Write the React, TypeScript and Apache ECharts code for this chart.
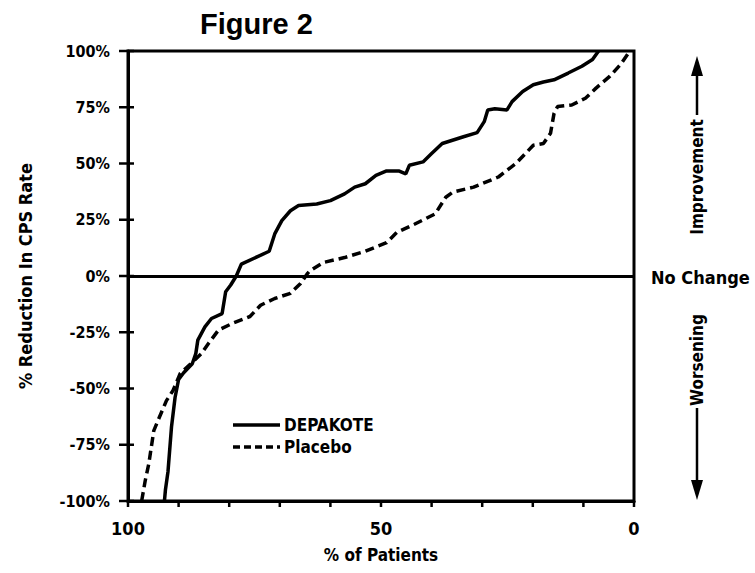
import React, { useEffect, useRef } from "react";
import * as echarts from "echarts";

const FONT = "'DejaVu Sans Condensed', 'Liberation Sans Narrow', sans-serif";

// % of patients (x) and % reduction in CPS rate (y)
const depakoteX = [92.8, 92.6, 92.1, 91.4, 90.7, 90.0, 89.0, 87.3, 86.6, 86.2, 84.8, 83.5, 81.4, 80.7, 79.7, 78.6, 77.6, 72.1, 71.0, 69.6, 67.9, 66.3, 62.7, 60.0, 57.2, 55.2, 53.1, 51.0, 48.9, 46.5, 45.1, 44.4, 41.7, 40.0, 37.9, 33.7, 31.0, 29.6, 28.9, 27.5, 25.1, 24.1, 22.0, 19.9, 17.9, 15.8, 13.0, 10.3, 8.2, 7.0];
const depakoteY = [-100, -95, -87, -67, -54, -46, -43, -39, -34.5, -28.5, -22.6, -18.9, -16.7, -7, -4, 0, 5.3, 11, 18.7, 24.6, 29, 31.3, 32, 33.5, 36.5, 39.5, 41, 44.7, 46.7, 46.7, 45.4, 49.2, 50.7, 54.4, 58.9, 61.9, 63.7, 68.6, 73.8, 74.3, 73.8, 77.5, 82, 85, 86.2, 87.2, 90.2, 93.2, 96.2, 100];

const placeboX = [97.3, 96.6, 95.9, 94.9, 93.8, 92.4, 91.1, 89.7, 87.6, 85.5, 84.1, 82.1, 79.3, 75.9, 73.8, 71.0, 67.9, 65.9, 64.5, 64.1, 61.4, 57.2, 53.1, 48.9, 46.9, 43.4, 39.3, 37.2, 35.8, 31.7, 26.8, 23.4, 19.9, 17.9, 16.5, 15.8, 15.1, 12.3, 9.6, 7.5, 4.8, 2.7, 0.8];
const placeboY = [-100, -91, -83.6, -68.7, -62.8, -55.4, -50.9, -43.4, -39, -34.5, -30, -24, -21, -18, -13, -10, -7.7, -3.3, 1.2, 2.2, 6, 8.2, 11, 14.8, 19.3, 23, 27.6, 35, 37.3, 39.5, 44, 49.9, 58.1, 58.9, 63.4, 72.3, 75.3, 76, 79, 83.5, 88.7, 93.9, 100];

const seriesNames = ["DEPAKOTE", "Placebo"];
const xLabelTicks = [100, 50, 0];
const xTickValues = [0, 10, 20, 30, 40, 50, 60, 70, 80, 90, 100];
const yTickValues = [-100, -75, -50, -25, 0, 25, 50, 75, 100];

const zip = (xs: number[], ys: number[]) => xs.map((x, i) => [x, ys[i]]);

export default function App() {
  const ref = useRef<HTMLDivElement>(null);

  useEffect(() => {
    if (!ref.current) return;
    const chart = echarts.init(ref.current, null, { renderer: "svg" });
    const black = "#000";
    const txt = (size: number) => ({ color: black, fontFamily: FONT, fontWeight: "bold" as const, fontSize: size });

    chart.setOption({
      animation: false,
      backgroundColor: "#fff",
      title: {
        text: "Figure 2",
        left: 195,
        top: 4,
        textStyle: { color: black, fontFamily: "'Liberation Sans', Arial, sans-serif", fontWeight: "bold", fontSize: 29 },
      },
      grid: {
        left: 128,
        right: 121,
        top: 51,
        bottom: 72,
        show: true,
        borderColor: black,
        borderWidth: 3,
        backgroundColor: "transparent",
      },
      xAxis: {
        type: "value",
        min: 0,
        max: 100,
        interval: 10,
        inverse: true,
        name: "% of Patients",
        nameLocation: "middle",
        nameGap: 45,
        nameTextStyle: txt(17),
        axisLine: { show: true, onZero: false, lineStyle: { color: black, width: 3 } },
        axisTick: { show: false },
        axisLabel: {
          ...txt(18),
          margin: 18,
          formatter: (v: number) => (xLabelTicks.includes(v) ? String(v) : ""),
        },
        splitLine: { show: false },
      },
      yAxis: {
        type: "value",
        min: -100,
        max: 100,
        interval: 25,
        name: "% Reduction In CPS Rate",
        nameLocation: "middle",
        nameRotate: 90,
        nameGap: 94,
        nameTextStyle: txt(18),
        axisLine: { show: true, onZero: false, lineStyle: { color: black, width: 3 } },
        axisTick: { show: false },
        axisLabel: { ...txt(16), margin: 18, formatter: (v: number) => `${v}%` },
        splitLine: { show: false },
      },
      series: [
        {
          name: seriesNames[0],
          type: "line",
          data: zip(depakoteX, depakoteY),
          symbol: "none",
          lineStyle: { color: black, width: 3.5, type: "solid" },
          markLine: {
            silent: true,
            symbol: ["none", "none"],
            label: { show: false },
            lineStyle: { color: black, width: 3, type: "solid" },
            data: [{ yAxis: 0 }],
          },
        },
        {
          name: seriesNames[1],
          type: "line",
          data: zip(placeboX, placeboY),
          symbol: "none",
          lineStyle: { color: black, width: 3.5, type: [9, 5] },
        },
        {
          type: "custom",
          silent: true,
          clip: false,
          data: xTickValues.map((v) => [v, -100]),
          renderItem: (_p: any, api: any) => {
            const pt = api.coord([api.value(0), api.value(1)]);
            return {
              type: "line",
              shape: { x1: pt[0], y1: pt[1], x2: pt[0], y2: pt[1] + 6 },
              style: { stroke: black, lineWidth: 2.5 },
            };
          },
        },
        {
          type: "custom",
          silent: true,
          clip: false,
          data: yTickValues.map((v) => [100, v]),
          renderItem: (_p: any, api: any) => {
            const pt = api.coord([api.value(0), api.value(1)]);
            return {
              type: "line",
              shape: { x1: pt[0] - 9, y1: pt[1], x2: pt[0] + 6, y2: pt[1] },
              style: { stroke: black, lineWidth: 2.5 },
            };
          },
        },
      ],
      graphic: [
        { type: "line", shape: { x1: 233, y1: 425, x2: 280, y2: 425 }, style: { stroke: black, lineWidth: 3.5 } },
        { type: "text", x: 284, y: 425, style: { text: seriesNames[0], font: `bold 17px ${FONT}`, fill: black, verticalAlign: "middle", align: "left" } },
        { type: "line", shape: { x1: 233, y1: 447, x2: 280, y2: 447 }, style: { stroke: black, lineWidth: 3.5, lineDash: [7, 4] } },
        { type: "text", x: 284, y: 447, style: { text: seriesNames[1], font: `bold 17px ${FONT}`, fill: black, verticalAlign: "middle", align: "left" } },

        { type: "text", x: 697, y: 177, rotation: Math.PI / 2, style: { text: "Improvement", font: `bold 17px ${FONT}`, fill: black, verticalAlign: "middle", align: "center" } },
        { type: "line", shape: { x1: 697, y1: 115, x2: 697, y2: 72 }, style: { stroke: black, lineWidth: 2.5 } },
        { type: "polygon", shape: { points: [[697, 56], [691, 76], [703, 76]] }, style: { fill: black } },

        { type: "text", x: 651, y: 277, style: { text: "No Change", font: `bold 18px ${FONT}`, fill: black, verticalAlign: "middle", align: "left" } },

        { type: "text", x: 697, y: 360, rotation: Math.PI / 2, style: { text: "Worsening", font: `bold 17px ${FONT}`, fill: black, verticalAlign: "middle", align: "center" } },
        { type: "line", shape: { x1: 697, y1: 408, x2: 697, y2: 482 }, style: { stroke: black, lineWidth: 2.5 } },
        { type: "polygon", shape: { points: [[697, 500], [691, 480], [703, 480]] }, style: { fill: black } },
      ],
    });

    return () => chart.dispose();
  }, []);

  return (
    <div
      ref={ref}
      style={{ position: "absolute", left: 0, top: 0, width: 755, height: 573, background: "#fff" }}
    />
  );
}
